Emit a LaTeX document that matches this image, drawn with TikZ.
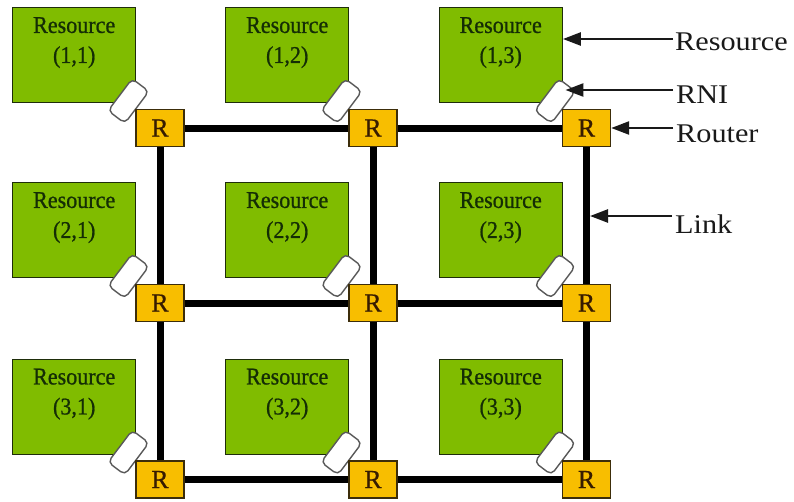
\documentclass[tikz,border=0pt]{standalone}
\usepackage{fontspec}
\setmainfont{Liberation Serif}
\newfontfamily\annfont[FakeStretch=1.12]{Liberation Serif}
\newfontfamily\boxfont[FakeStretch=0.92,FakeBold=0.8]{Liberation Serif}
\newfontfamily\routfont[FakeBold=0.6]{Liberation Serif}
\usetikzlibrary{arrows.meta}
\definecolor{resgreen}{RGB}{128,188,0}
\definecolor{resedge}{RGB}{30,45,10}
\definecolor{restxt}{RGB}{20,45,5}
\definecolor{routfill}{RGB}{248,190,0}
\definecolor{routedge}{RGB}{60,45,10}
\definecolor{routtxt}{RGB}{55,28,0}
\definecolor{anncol}{RGB}{25,25,25}
\begin{document}
\begin{tikzpicture}[x=1pt,y=-1pt,
 res/.style={draw=resedge, fill=resgreen, line width=1.4pt, minimum width=123pt, minimum height=95pt, inner sep=0pt, anchor=north west},
 restext/.style={anchor=north, inner sep=0pt, align=center, text=restxt, font=\boxfont\fontsize{24}{30}\selectfont},
 router/.style={draw=routedge, fill=routfill, line width=1.4pt, minimum width=48pt, minimum height=37pt, inner sep=0pt, text=routtxt, font=\routfont\fontsize{26}{28}\selectfont},
 rni/.style={draw=black!65, fill=white, line width=1.4pt, rounded corners=5pt, minimum width=40pt, minimum height=21pt, inner sep=0pt, rotate=53},
 link/.style={line width=7pt, black},
 ann/.style={draw=anncol, line width=2.5pt, -{Triangle[length=18pt,width=13pt]}},
 anntext/.style={anchor=base west, inner sep=0pt, text=anncol, font=\annfont\fontsize{27}{30}\selectfont},
]
\useasboundingbox (0,0) rectangle (794,501);
\fill[white] (0,0) rectangle (794,501);

% resources, RNIs and routers
\foreach \r/\cy in {1/128,2/303,3/479.5}{
  \foreach \c/\cx in {1/160,2/373,3/586.5}{
    \node[res] (res\r\c) at (\cx-148,\cy-121) {};
    \node[restext, below=10pt] (rt\r\c) at (res\r\c.north) {Resource\\(\r,\c)};
    \node[rni] (rni\r\c) at (\cx-31.5,\cy-27) {};
    \node[router] (r\r\c) at (\cx,\cy) {R};
  }
}

% links
\foreach \r in {1,2,3}{
  \draw[link] (r\r1.east) -- (r\r2.west);
  \draw[link] (r\r2.east) -- (r\r3.west);
}
\foreach \c in {1,2,3}{
  \draw[link] (r1\c.south) -- (r2\c.north);
  \draw[link] (r2\c.south) -- (r3\c.north);
}
\path (r13.south) -- (r23.north) coordinate[midway] (lk);

% annotations
\node[anntext] (lRes) at (675,50) {Resource};
\node[anntext] (lRNI) at (676,103) {RNI};
\node[anntext] (lRouter) at (676,142) {Router};
\node[anntext] (lLink) at (675,233) {Link};
\coordinate (aRes) at (673,39);
\coordinate (aRNI) at (673,90);
\coordinate (aRouter) at (673,128);
\coordinate (aLink) at (672,216);
\draw[ann] (aRes) -- (aRes -| res13.east);
\draw[ann] (aRNI) -- ([xshift=-2pt]aRNI -| rni13.east);
\draw[ann] (aRouter) -- (r13.east);
\draw[ann] (aLink) -- ([xshift=3.5pt]aLink -| lk);
\end{tikzpicture}
\end{document}
